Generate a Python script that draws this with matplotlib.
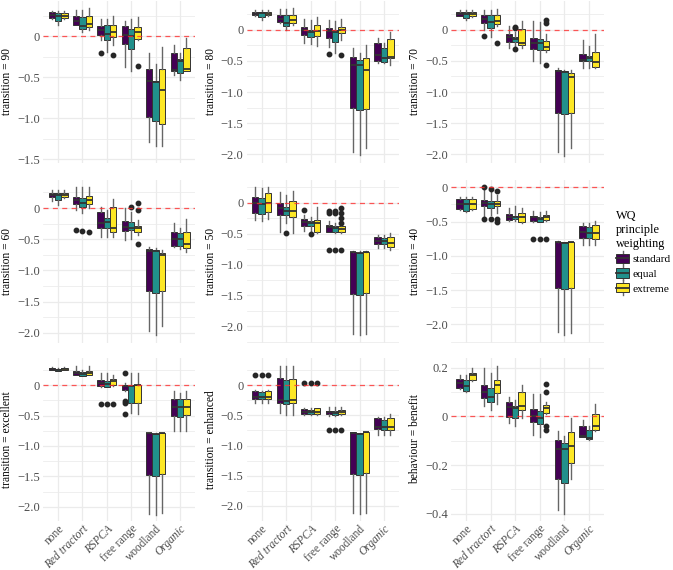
import matplotlib
matplotlib.use("Agg")
import matplotlib.pyplot as plt
from matplotlib.ticker import MultipleLocator, FuncFormatter
from matplotlib.patches import Patch, Rectangle
from matplotlib.lines import Line2D
from matplotlib.legend_handler import HandlerBase

plt.rcParams['font.family'] = ['Liberation Serif', 'DejaVu Serif']

categories = ["none", "Red tractort", "RSPCA", "free range", "woodland", "Organic"]
italic_cats = ["Red tractort", "RSPCA", "Organic"]
series = ["standard", "equal", "extreme"]
colors = ["#440154", "#21908C", "#FDE725"]

panel_labels = ["transition = 90", "transition = 80", "transition = 70",
                "transition = 60", "transition = 50", "transition = 40",
                "transition = excellent", "transition = enhanced", "behaviour = benefit"]

# box stats per category -> per series: (whislo, q1, med, q3, whishi)
t90 = [
    [(0.21, 0.22, 0.26, 0.29, 0.31), (0.14, 0.19, 0.25, 0.28, 0.31), (0.21, 0.22, 0.25, 0.28, 0.31)],
    [(0.13, 0.14, 0.19, 0.24, 0.32), (0.05, 0.09, 0.12, 0.23, 0.32), (0.07, 0.11, 0.15, 0.25, 0.34)],
    [(-0.05, 0.01, 0.07, 0.125, 0.21), (-0.19, -0.05, 0.03, 0.13, 0.21), (-0.11, -0.01, 0.05, 0.13, 0.24)],
    [(-0.38, -0.10, 0.01, 0.12, 0.19), (-0.43, -0.16, 0.0, 0.09, 0.21), (-0.05, -0.03, 0.05, 0.11, 0.23)],
    [(-1.29, -0.99, -0.55, -0.40, -0.21), (-1.34, -1.03, -0.56, -0.55, -0.34), (-1.34, -1.07, -0.66, -0.40, -0.13)],
    [(-0.47, -0.42, -0.41, -0.20, -0.11), (-0.53, -0.45, -0.30, -0.28, -0.21), (-0.43, -0.43, -0.40, -0.14, -0.02)],
]
t90_fliers = {(2, 0): [-0.20], (2, 2): [-0.23], (3, 2): [-0.37]}

t80 = [
    [(0.22, 0.23, 0.26, 0.29, 0.32), (0.16, 0.20, 0.27, 0.28, 0.32), (0.22, 0.23, 0.26, 0.28, 0.32)],
    [(0.11, 0.12, 0.18, 0.23, 0.33), (0.0, 0.06, 0.11, 0.23, 0.33), (0.07, 0.10, 0.16, 0.23, 0.35)],
    [(-0.22, -0.085, 0.0, 0.04, 0.17), (-0.23, -0.11, -0.04, -0.01, 0.15), (-0.26, -0.10, -0.02, 0.07, 0.20)],
    [(-0.28, -0.13, -0.02, 0.02, 0.15), (-0.38, -0.20, -0.03, 0.0, 0.14), (-0.17, -0.06, -0.01, 0.04, 0.17)],
    [(-1.96, -1.26, -0.56, -0.43, -0.29), (-2.01, -1.29, -0.56, -0.48, -0.38), (-1.90, -1.27, -0.65, -0.46, -0.25)],
    [(-0.53, -0.51, -0.41, -0.22, -0.13), (-0.54, -0.52, -0.45, -0.30, -0.22), (-0.57, -0.45, -0.43, -0.15, -0.04)],
]
t80_fliers = {(3, 0): [-0.39], (3, 2): [-0.41]}

t70 = [
    [(0.22, 0.22, 0.26, 0.29, 0.32), (0.15, 0.19, 0.245, 0.28, 0.31), (0.21, 0.22, 0.25, 0.28, 0.32)],
    [(-0.01, 0.106, 0.165, 0.23, 0.32), (-0.12, 0.03, 0.12, 0.23, 0.32), (0.06, 0.085, 0.14, 0.23, 0.335)],
    [(-0.29, -0.197, -0.117, -0.064, 0.053), (-0.27, -0.197, -0.154, -0.117, -0.04), (-0.29, -0.25, -0.207, 0.005, 0.138)],
    [(-0.505, -0.303, -0.207, -0.133, 0.138), (-0.527, -0.33, -0.213, -0.154, 0.12), (-0.356, -0.32, -0.277, -0.186, -0.064)],
    [(-1.96, -1.34, -0.66, -0.65, -0.62), (-2.02, -1.356, -0.676, -0.665, -0.65), (-1.90, -1.34, -0.755, -0.70, -0.65)],
    [(-0.61, -0.505, -0.48, -0.383, -0.17), (-0.62, -0.505, -0.45, -0.42, -0.266), (-0.622, -0.596, -0.516, -0.356, -0.064)],
]
t70_fliers = {(1, 0): [-0.10], (1, 2): [-0.21], (2, 1): [0.04, 0.02, -0.31], (3, 2): [0.15, 0.10, -0.57]}

t60 = [
    [(0.118, 0.171, 0.208, 0.235, 0.289), (0.048, 0.128, 0.208, 0.235, 0.289), (0.155, 0.171, 0.208, 0.246, 0.289)],
    [(-0.03, 0.064, 0.128, 0.18, 0.33), (-0.086, 0.02, 0.085, 0.155, 0.33), (-0.005, 0.064, 0.128, 0.19, 0.33)],
    [(-0.46, -0.326, -0.246, -0.064, 0.02), (-0.46, -0.316, -0.23, -0.155, -0.03), (-0.46, -0.38, -0.326, 0.01, 0.139)],
    [(-0.513, -0.369, -0.30, -0.203, -0.005), (-0.50, -0.353, -0.316, -0.22, -0.06), (-0.433, -0.38, -0.326, -0.283, -0.193)],
    [(-1.968, -1.33, -0.684, -0.658, -0.62), (-2.037, -1.358, -0.69, -0.674, -0.647), (-1.893, -1.33, -0.754, -0.717, -0.674)],
    [(-0.62, -0.604, -0.503, -0.38, -0.235), (-0.663, -0.604, -0.503, -0.406, -0.326), (-0.70, -0.636, -0.583, -0.38, -0.18)],
]
t60_fliers = {(1, 0): [-0.353], (1, 1): [-0.37], (1, 2): [-0.39], (3, 1): [0.02], (3, 2): [0.075, -0.03, -0.578]}

t50 = [
    [(-0.28, -0.162, 0.0, 0.097, 0.249), (-0.29, -0.184, -0.02, 0.07, 0.232), (-0.27, -0.157, 0.0, 0.151, 0.259)],
    [(-0.47, -0.20, -0.092, 0.0, 0.178), (-0.335, -0.20, -0.13, -0.076, 0.124), (-0.497, -0.227, -0.13, 0.032, 0.195)],
    [(-0.45, -0.378, -0.308, -0.27, -0.20), (-0.47, -0.378, -0.324, -0.292, -0.227), (-0.497, -0.47, -0.335, -0.281, -0.065)],
    [(-0.47, -0.47, -0.39, -0.362, -0.30), (-0.497, -0.47, -0.416, -0.378, -0.335), (-0.497, -0.47, -0.432, -0.378, -0.335)],
    [(-2.12, -1.47, -0.795, -0.795, -0.785), (-2.146, -1.486, -0.82, -0.81, -0.785), (-2.12, -1.46, -0.795, -0.795, -0.785)],
    [(-0.74, -0.67, -0.616, -0.562, -0.524), (-0.74, -0.67, -0.616, -0.578, -0.524), (-0.767, -0.713, -0.659, -0.551, -0.497)],
]
t50_fliers = {(1, 1): [-0.497], (2, 0): [-0.119], (2, 1): [-0.508],
              (3, 0): [-0.13, -0.17, -0.76], (3, 1): [-0.13, -0.17, -0.76],
              (3, 2): [-0.092, -0.17, -0.25, -0.32, -0.77]}

t40 = [
    [(-0.33, -0.32, -0.243, -0.175, -0.136), (-0.354, -0.345, -0.243, -0.175, -0.136), (-0.33, -0.32, -0.243, -0.175, -0.136)],
    [(-0.427, -0.28, -0.223, -0.184, -0.02), (-0.40, -0.296, -0.243, -0.194, -0.06), (-0.38, -0.28, -0.243, -0.194, -0.11)],
    [(-0.485, -0.476, -0.427, -0.388, -0.306), (-0.485, -0.466, -0.437, -0.417, -0.272), (-0.515, -0.50, -0.437, -0.379, -0.306)],
    [(-0.50, -0.485, -0.437, -0.417, -0.34), (-0.50, -0.50, -0.466, -0.437, -0.354), (-0.49, -0.476, -0.437, -0.408, -0.34)],
    [(-2.116, -1.47, -0.80, -0.791, -0.78), (-2.15, -1.485, -0.806, -0.80, -0.791), (-2.125, -1.47, -0.80, -0.80, -0.791)],
    [(-0.84, -0.743, -0.646, -0.563, -0.515), (-0.84, -0.743, -0.67, -0.573, -0.524), (-0.84, -0.757, -0.67, -0.549, -0.49)],
]
t40_fliers = {(1, 0): [0.0, -0.466], (1, 1): [-0.03, -0.466], (1, 2): [-0.06, -0.466, -0.50],
              (3, 0): [-0.748], (3, 1): [-0.757], (3, 2): [-0.757]}

t_excellent = [
    [(0.255, 0.255, 0.271, 0.283, 0.294), (0.244, 0.244, 0.255, 0.271, 0.283), (0.255, 0.255, 0.271, 0.283, 0.294)],
    [(0.172, 0.172, 0.21, 0.244, 0.321), (0.161, 0.161, 0.188, 0.216, 0.255), (0.172, 0.172, 0.21, 0.244, 0.321)],
    [(-0.022, -0.011, 0.044, 0.089, 0.20), (-0.033, -0.022, 0.022, 0.078, 0.20), (-0.011, 0.0, 0.078, 0.10, 0.172)],
    [(-0.09, -0.075, -0.01, 0.01, 0.03), (-0.454, -0.29, -0.005, 0.0, 0.21), (-0.465, -0.29, 0.0, 0.0, 0.21)],
    [(-2.116, -1.474, -0.79, -0.78, -0.78), (-2.14, -1.49, -0.80, -0.80, -0.79), (-2.11, -1.46, -0.79, -0.79, -0.78)],
    [(-0.75, -0.50, -0.35, -0.23, -0.10), (-0.75, -0.52, -0.35, -0.23, -0.13), (-0.75, -0.49, -0.35, -0.22, -0.09)],
]
t_excellent_fliers = {(2, 0): [-0.316], (2, 1): [-0.316], (2, 2): [-0.31], (3, 0): [0.21, -0.26, -0.29, -0.47]}

t_enhanced = [
    [(-0.289, -0.233, -0.189, -0.094, -0.078), (-0.289, -0.233, -0.189, -0.105, -0.089), (-0.289, -0.233, -0.189, -0.094, -0.078)],
    [(-0.467, -0.30, -0.25, 0.117, 0.322), (-0.494, -0.311, -0.26, 0.089, 0.322), (-0.494, -0.30, -0.25, 0.10, 0.322)],
    [(-0.494, -0.483, -0.439, -0.40, -0.383), (-0.494, -0.478, -0.439, -0.41, -0.383), (-0.494, -0.483, -0.439, -0.383, -0.37)],
    [(-0.511, -0.478, -0.439, -0.422, -0.356), (-0.511, -0.494, -0.455, -0.422, -0.367), (-0.494, -0.478, -0.439, -0.411, -0.356)],
    [(-2.122, -1.467, -0.789, -0.78, -0.78), (-2.14, -1.483, -0.811, -0.80, -0.79), (-2.117, -1.456, -0.78, -0.78, -0.78)],
    [(-0.82, -0.73, -0.69, -0.55, -0.52), (-0.82, -0.74, -0.69, -0.58, -0.53), (-0.83, -0.75, -0.70, -0.54, -0.48)],
]
t_enhanced_fliers = {(0, 0): [0.172], (0, 1): [0.172], (0, 2): [0.172],
                     (2, 0): [0.033], (2, 1): [0.033], (2, 2): [0.033],
                     (3, 0): [-0.744], (3, 1): [-0.744], (3, 2): [-0.744]}

b_benefit = [
    [(0.113, 0.117, 0.138, 0.152, 0.172), (0.10, 0.103, 0.124, 0.149, 0.172), (0.145, 0.149, 0.17, 0.179, 0.20)],
    [(0.041, 0.076, 0.099, 0.128, 0.20), (0.028, 0.058, 0.079, 0.117, 0.179), (0.052, 0.097, 0.128, 0.149, 0.207)],
    [(-0.028, -0.003, 0.037, 0.058, 0.08), (-0.039, -0.007, 0.034, 0.041, 0.069), (-0.007, 0.028, 0.041, 0.099, 0.131)],
    [(-0.076, -0.025, 0.0, 0.03, 0.09), (-0.083, -0.03, -0.007, 0.021, 0.09), (0.011, 0.014, 0.034, 0.048, 0.058)],
    [(-0.383, -0.259, -0.135, -0.097, -0.059), (-0.403, -0.273, -0.135, -0.108, -0.08), (-0.259, -0.19, -0.121, -0.065, -0.007)],
    [(-0.083, -0.083, -0.08, -0.041, -0.014), (-0.097, -0.094, -0.09, -0.055, -0.041), (-0.062, -0.055, -0.039, 0.01, 0.051)],
]
b_benefit_fliers = {(3, 2): [0.134, 0.101, -0.039, -0.058]}

panels = [(t90, t90_fliers), (t80, t80_fliers), (t70, t70_fliers),
          (t60, t60_fliers), (t50, t50_fliers), (t40, t40_fliers),
          (t_excellent, t_excellent_fliers), (t_enhanced, t_enhanced_fliers),
          (b_benefit, b_benefit_fliers)]

ylims = [(-1.547, 0.434), (-2.139, 0.469), (-2.139, 0.469),
         (-2.163, 0.449), (-2.27, 0.368), (-2.27, 0.106),
         (-2.236, 0.45), (-2.25, 0.45), (-0.43, 0.24)]

# ---------------- layout ----------------
W, H = 673, 570
fig = plt.figure(figsize=(W / 100, H / 100), dpi=100)
col_x = [(43.4, 194.7), (247.0, 398.7), (451.3, 603.7)]
row_y = [(0.5, 163.0), (180.0, 343.0), (358.0, 521.0)]

def fmt(v, pos):
    if abs(v) < 1e-9:
        return "0"
    s = f"{v:.1f}"
    return s.replace("-", "\u2212")

GRID = "#EBEBEB"
EDGE = "#333333"

for k, (stats_arr, fliers) in enumerate(panels):
    r, c = divmod(k, 3)
    x0, x1 = col_x[c]
    y0, y1 = row_y[r]
    ax = fig.add_axes([x0 / W, 1 - y1 / H, (x1 - x0) / W, (y1 - y0) / H])
    bw = 0.26
    for i in range(len(categories)):
        for j in range(len(series)):
            wl, q1, med, q3, wh = stats_arr[i][j]
            st = dict(whislo=wl, q1=q1, med=med, q3=q3, whishi=wh,
                      fliers=fliers.get((i, j), []))
            pos = (i + 1) + (j - 1) * bw
            ax.bxp([st], positions=[pos], widths=bw, patch_artist=True, showcaps=False,
                   boxprops=dict(facecolor=colors[j], edgecolor=EDGE, linewidth=0.7),
                   medianprops=dict(color=EDGE, linewidth=1.3),
                   whiskerprops=dict(color="#666666", linewidth=1.0),
                   flierprops=dict(marker="o", markersize=3.2, markerfacecolor="#262626",
                                   markeredgecolor="#262626", linestyle="none"),
                   manage_ticks=False, zorder=3)
    ax.axhline(0, color="#FF3030", linestyle=(0, (4, 3.5)), linewidth=0.9, zorder=4, alpha=0.8)
    ax.set_xlim(0.4, len(categories) + 0.6)
    ax.set_ylim(*ylims[k])
    if k == 8:
        ax.yaxis.set_major_locator(MultipleLocator(0.2))
        ax.yaxis.set_minor_locator(MultipleLocator(0.1))
    else:
        ax.yaxis.set_major_locator(MultipleLocator(0.5))
        ax.yaxis.set_minor_locator(MultipleLocator(0.25))
    ax.yaxis.set_major_formatter(FuncFormatter(fmt))
    ax.set_xticks(range(1, len(categories) + 1))
    ax.grid(True, which="major", color=GRID, linewidth=0.9, zorder=0)
    ax.grid(True, which="minor", axis="y", color=GRID, linewidth=0.55, zorder=0)
    ax.set_axisbelow(True)
    for s in ax.spines.values():
        s.set_visible(False)
    ax.tick_params(axis="y", which="both", length=0, labelsize=9, labelcolor="#4D4D4D", pad=2.5)
    ax.tick_params(axis="x", which="both", length=0, labelsize=8.3, labelcolor="#4D4D4D", pad=1.5)
    ax.set_ylabel(panel_labels[k], fontsize=8.3, color="black", labelpad=3)
    if r == 2:
        ax.set_xticklabels(categories, rotation=45, ha="right", va="top",
                           rotation_mode="anchor", fontsize=8.3)
        for lab in ax.get_xticklabels():
            if lab.get_text() in italic_cats:
                lab.set_style("italic")
    else:
        ax.set_xticklabels([])


class BoxHandler(HandlerBase):
    def create_artists(self, legend, orig_handle, xdescent, ydescent, width, height,
                       fontsize, trans):
        fc = orig_handle.get_facecolor()
        x0 = -xdescent
        y0 = -ydescent
        cx = x0 + width / 2
        wl = Line2D([cx, cx], [y0 - height * 0.2, y0 + height * 1.2], color="#666666",
                    linewidth=1.0, transform=trans)
        rect = Rectangle((x0, y0 + height * 0.05), width, height * 0.9, facecolor=fc,
                         edgecolor=EDGE, linewidth=0.7, transform=trans)
        med = Line2D([x0, x0 + width], [y0 + height / 2] * 2, color=EDGE,
                     linewidth=1.3, transform=trans)
        return [wl, rect, med]


handles = [Patch(facecolor=col) for col in colors]
leg = fig.legend(handles, series, handler_map={Patch: BoxHandler()},
                 loc="upper left", bbox_to_anchor=(616 / W, 1 - 210 / H),
                 frameon=False, title="WQ\nprinciple\nweighting", fontsize=8.2,
                 title_fontsize=8.8, handlelength=1.15, handleheight=1.0,
                 labelspacing=0.32, handletextpad=0.3, borderpad=0,
                 borderaxespad=0, alignment="left")

fig.savefig("out.png", dpi=100)
